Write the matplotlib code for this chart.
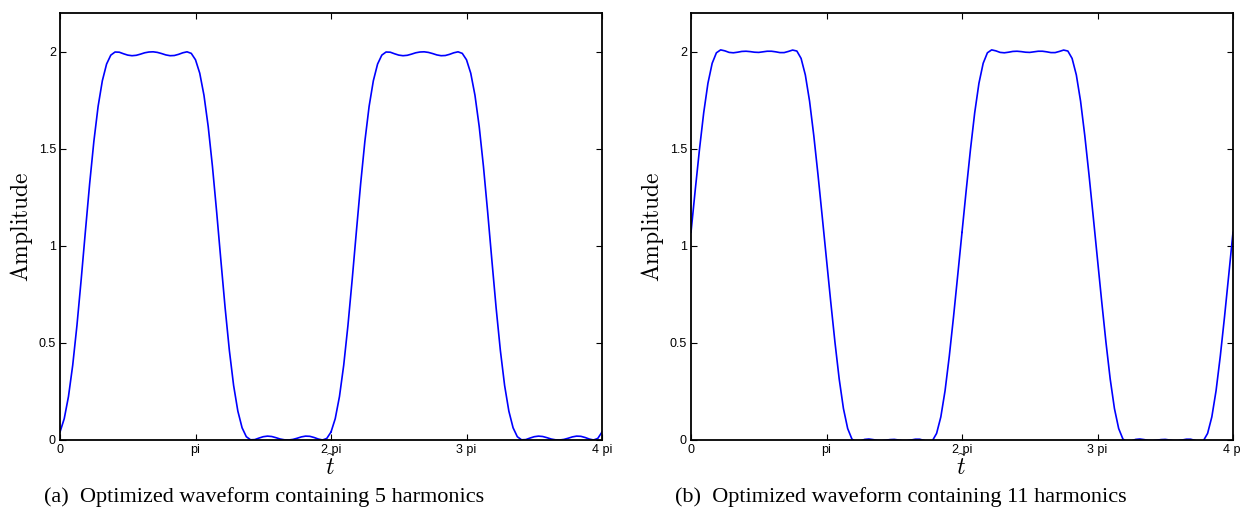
import numpy as np
import matplotlib
matplotlib.use("Agg")
import matplotlib.pyplot as plt

plt.rcParams['mathtext.fontset'] = 'cm'
plt.rcParams['font.family'] = ['Liberation Sans', 'DejaVu Sans']

t_over_pi = np.arange(65) / 32.0
amp_5 = [0.041, 0.110, 0.224, 0.385, 0.590, 0.826, 1.076, 1.320, 1.539, 1.719, 1.851, 1.937, 1.983,
         1.999, 1.998, 1.990, 1.983, 1.980, 1.982, 1.988, 1.995, 1.999, 2.000, 1.997, 1.991, 1.984,
         1.980, 1.981, 1.987, 1.995, 2.000, 1.992, 1.959, 1.890, 1.776, 1.615, 1.410, 1.174, 0.924,
         0.680, 0.461, 0.281, 0.149, 0.063, 0.017, 0.001, 0.002, 0.010, 0.017, 0.020, 0.018, 0.012,
         0.005, 0.001, 0.000, 0.003, 0.009, 0.016, 0.020, 0.019, 0.013, 0.005, 0.000, 0.008, 0.041]
amp_11 = [1.070, 1.288, 1.497, 1.686, 1.838, 1.941, 1.995, 2.010, 2.005, 1.997, 1.995, 1.998, 2.002,
          2.003, 2.001, 1.998, 1.997, 2.000, 2.003, 2.003, 2.000, 1.996, 1.996, 2.002, 2.009, 2.004,
          1.966, 1.881, 1.746, 1.568, 1.365, 1.149, 0.930, 0.712, 0.503, 0.314, 0.162, 0.059, 0.005,
          -0.010, -0.005, 0.003, 0.005, 0.002, -0.002, -0.003, -0.001, 0.002, 0.003, 0.000, -0.003,
          -0.003, 0.000, 0.004, 0.004, -0.002, -0.009, -0.004, 0.034, 0.119, 0.254, 0.432, 0.635,
          0.851, 1.070]
n_periods = 2

xtick_labels = ["0", "pi", "2 pi", "3 pi", "4 pi"]
yticks = [0, 0.5, 1, 1.5, 2]
ytick_labels = ["0", "0.5", "1", "1.5", "2"]
captions = ["(a)  Optimized waveform containing 5 harmonics",
            "(b)  Optimized waveform containing 11 harmonics"]

fig = plt.figure(figsize=(12.41, 5.29), dpi=100)
axes = [fig.add_axes([60/1241, 89/529, 542/1241, 427/529]),
        fig.add_axes([691/1241, 89/529, 542/1241, 427/529])]

for ax, y in zip(axes, [amp_5, amp_11]):
    for p in range(n_periods):
        ax.plot((t_over_pi + 2*p) * np.pi, y, color=(0, 0, 1), lw=1.2)
    ax.set_xlim(0, 4*np.pi)
    ax.set_ylim(0, 2.2)
    ax.set_xticks(np.arange(5) * np.pi)
    ax.set_xticklabels(xtick_labels)
    ax.set_yticks(yticks)
    ax.set_yticklabels(ytick_labels)
    ax.tick_params(direction="in", top=True, right=True, length=4, width=0.8,
                   labelsize=9, pad=3)
    for s in ax.spines.values():
        s.set_linewidth(1.3)
    ax.set_ylabel(r"$\mathrm{Amplitude}$", fontsize=17)
    ax.yaxis.set_label_coords(-0.047, 0.5)
    ax.set_xlabel(r"$\tilde{t}$", fontsize=17)
    ax.xaxis.set_label_coords(0.5, -0.036)

fig.text(264/1241, 1 - 497/529, captions[0], family="Liberation Serif", fontsize=16,
         ha="center", va="center")
fig.text(901/1241, 1 - 497/529, captions[1], family="Liberation Serif", fontsize=16,
         ha="center", va="center")

fig.savefig("out.png", dpi=100)
